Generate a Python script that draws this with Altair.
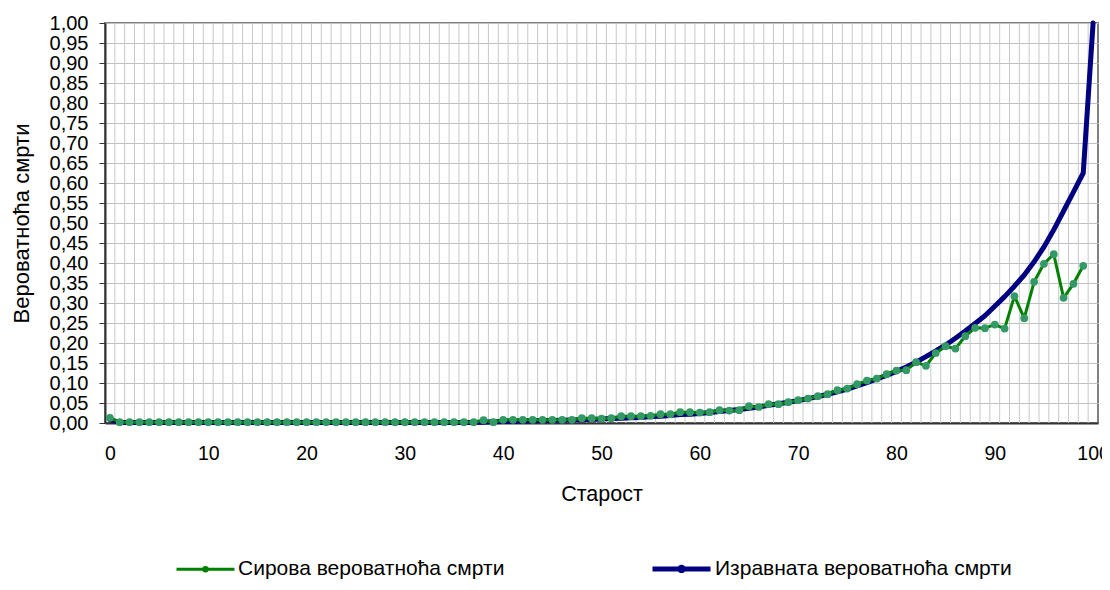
import altair as alt
import pandas as pd

RAW_NAME = "Сирова вероватноћа смрти"
SMOOTH_NAME = "Изравната вероватноћа смрти"

raw_ages = list(range(0, 100))
raw_values = (
    [0.013]
    + [0.002] * 37
    + [0.007, 0.002]
    + [0.008] * 8
    + [0.012, 0.012, 0.011, 0.012]
    + [0.017, 0.017, 0.017, 0.018]
    + [0.022, 0.022]
    + [0.027, 0.027, 0.026, 0.027]
    + [0.032, 0.031, 0.032]
    + [0.042, 0.040, 0.047, 0.047, 0.052, 0.057, 0.061, 0.067, 0.072, 0.082,
       0.086, 0.097, 0.106, 0.111, 0.122, 0.131, 0.132, 0.152, 0.143, 0.175,
       0.192, 0.186, 0.217, 0.238, 0.237, 0.246, 0.236, 0.317, 0.262, 0.353,
       0.398, 0.422, 0.313, 0.348, 0.393]
)

smooth_ages = list(range(0, 101))
smooth_values = (
    [0.008]
    + [0.0015] * 37
    + [0.002, 0.003]
    + [0.004, 0.0045, 0.005, 0.0055, 0.006, 0.0065, 0.007, 0.0075, 0.008, 0.009,
       0.010, 0.011, 0.012, 0.013, 0.014, 0.016, 0.017, 0.019, 0.021, 0.022,
       0.024, 0.026, 0.029, 0.031, 0.034, 0.037, 0.040, 0.044, 0.048, 0.052,
       0.056, 0.061, 0.066, 0.072, 0.078, 0.085, 0.093, 0.101, 0.110, 0.119,
       0.129, 0.140, 0.152, 0.166, 0.180, 0.195, 0.212, 0.230, 0.249, 0.268,
       0.292, 0.316, 0.342, 0.370, 0.403, 0.440, 0.483, 0.530, 0.577, 0.625,
       1.000]
)

x_tick_values = list(range(0, 101, 10))
y_tick_values = [round(i * 0.05, 2) for i in range(0, 21)]
x_grid_values = [k - 0.5 for k in range(1, 101)]

raw_df = pd.DataFrame({"age": raw_ages, "q": raw_values, "series": RAW_NAME})
smooth_df = pd.DataFrame({"age": smooth_ages, "q": smooth_values, "series": SMOOTH_NAME})
grid_df = pd.DataFrame({"gx": x_grid_values})

FONT = "Liberation Sans"
x_scale = alt.Scale(domain=[-0.5, 100.5], nice=False, zero=False)
y_scale = alt.Scale(domain=[0, 1], nice=False)

x_axis = alt.Axis(
    values=x_tick_values, grid=False, ticks=False, title="Старост",
    labelFontSize=19.5, titleFontSize=21.5, labelPadding=21, titlePadding=21,
    domainColor="#333333", domainWidth=2, labelColor="#000000", titleColor="#000000",
    labelFont=FONT, titleFont=FONT, titleFontWeight="normal", labelOverlap=False,
)
y_axis = alt.Axis(
    values=y_tick_values, grid=True, gridColor="#c0c0c0", gridWidth=1,
    tickSize=6, tickColor="#333333", tickWidth=1,
    labelExpr="replace(format(datum.value, '.2f'), '.', ',')",
    title="Вероватноћа смрти", labelFontSize=20, titleFontSize=22,
    labelPadding=11, titlePadding=16, domainColor="#333333", domainWidth=2,
    labelColor="#000000", titleColor="#000000", labelFont=FONT, titleFont=FONT,
    titleFontWeight="normal", labelOverlap=False, labelBound=False,
)

color_scale = alt.Scale(domain=[RAW_NAME, SMOOTH_NAME], range=["#008000", "#000080"])
width_scale = alt.Scale(domain=[RAW_NAME, SMOOTH_NAME], range=[3, 5])
legend = alt.Legend(
    title=None, orient="none", direction="horizontal", legendX=70, legendY=514,
    symbolType="M-1,0H1M0.06,0A0.06,0.06,0,1,1,-0.06,0A0.06,0.06,0,1,1,0.06,0Z",
    symbolSize=3364, labelFontSize=21, labelFont=FONT, labelColor="#000000",
    columnPadding=137, labelLimit=400, labelOffset=2,
)

grid = alt.Chart(grid_df).mark_rule(color="#c8c8c8", strokeWidth=1).encode(
    x=alt.X("gx:Q", scale=x_scale, axis=x_axis),
)

lines_smooth = alt.Chart(smooth_df).mark_line(strokeJoin="round", strokeCap="round").encode(
    x=alt.X("age:Q", scale=x_scale, axis=x_axis),
    y=alt.Y("q:Q", scale=y_scale, axis=y_axis),
    color=alt.Color("series:N", scale=color_scale, legend=legend),
    strokeWidth=alt.StrokeWidth("series:N", scale=width_scale, legend=legend),
)
lines_raw = alt.Chart(raw_df).mark_line(strokeJoin="round").encode(
    x=alt.X("age:Q", scale=x_scale, axis=x_axis),
    y=alt.Y("q:Q", scale=y_scale, axis=y_axis),
    color=alt.Color("series:N", scale=color_scale, legend=legend),
    strokeWidth=alt.StrokeWidth("series:N", scale=width_scale, legend=legend),
)
points_raw = alt.Chart(raw_df).mark_circle(size=60, color="#339966", opacity=1).encode(
    x=alt.X("age:Q", scale=x_scale, axis=x_axis),
    y=alt.Y("q:Q", scale=y_scale, axis=y_axis),
)

chart = alt.layer(grid, lines_smooth, lines_raw, points_raw).properties(
    width=993, height=400,
    autosize=alt.AutoSizeParams(type="none"),
    padding={"left": 97, "top": 15, "right": 4, "bottom": 159},
    background="#ffffff",
).configure_view(stroke="#808080", strokeWidth=2)

chart.save("out.html", embed_options={"renderer": "svg", "actions": False})
